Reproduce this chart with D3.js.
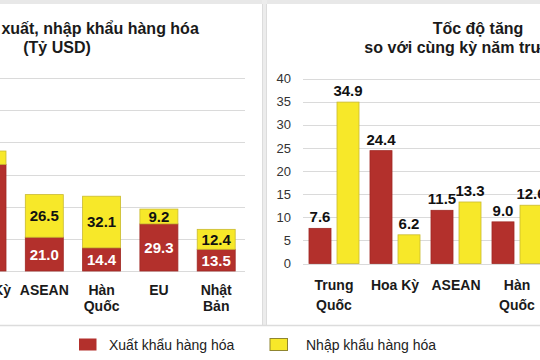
<!DOCTYPE html>
<html><head><meta charset="utf-8">
<script src="https://cdn.jsdelivr.net/npm/d3@7"></script>
<style>html,body{margin:0;padding:0;background:#fff;}svg{display:block;font-family:"Liberation Sans",Arial,sans-serif;}</style>
</head><body>
<svg id="c" width="540" height="360"></svg>
<script>
// ---- data ----
const leftCategories = ["Hoa Kỳ", "ASEAN", "Hàn Quốc", "EU", "Nhật Bản"];
const leftTickLabels = ["Hoa Kỳ", "ASEAN", "Hàn\nQuốc", "EU", "Nhật\nBản"];
const leftExport = [66.3, 21.0, 14.4, 29.3, 13.5];
const leftImport = [8.3, 26.5, 32.1, 9.2, 12.4];
const leftGridTicks = [0, 20, 40, 60, 80, 100, 120];

const rightCategories = ["Trung Quốc", "Hoa Kỳ", "ASEAN", "Hàn Quốc"];
const rightTickLabels = ["Trung\nQuốc", "Hoa Kỳ", "ASEAN", "Hàn\nQuốc"];
const rightExport = [7.6, 24.4, 11.5, 9.0];
const rightImport = [34.9, 6.2, 13.3, 12.6];
const rightTicks = [0, 5, 10, 15, 20, 25, 30, 35, 40];

const seriesNames = ["Xuất khẩu hàng hóa", "Nhập khẩu hàng hóa"];
const leftTitle = ["Kim ngạch xuất, nhập khẩu hàng hóa", "(Tỷ USD)"];
const rightTitle = ["Tốc độ tăng", "so với cùng kỳ năm trước (%)"];

// ---- styles ----
const RED = "#b3302c", RED_STROKE = "#a02824";
const YEL = "#f7e829", YEL_STROKE = "#c9ba30";
const GRID = "#dadada";

const svg = d3.select("#c");

// panel frame
svg.append("rect").attr("x", 0).attr("y", 0).attr("width", 540).attr("height", 4).attr("fill", "#e8e8e8");
svg.append("rect").attr("x", 262).attr("y", 0).attr("width", 5).attr("height", 326).attr("fill", "#ececec");
svg.append("line").attr("x1", 262.5).attr("x2", 262.5).attr("y1", 4).attr("y2", 326).attr("stroke", "#dcdcdc");
svg.append("line").attr("x1", 266.5).attr("x2", 266.5).attr("y1", 4).attr("y2", 326).attr("stroke", "#dcdcdc");
svg.append("line").attr("x1", 0).attr("x2", 540).attr("y1", 325.5).attr("y2", 325.5).attr("stroke", "#dcdcdc").attr("stroke-width", 1.5);

function multiline(sel, lh) {
  sel.each(function (d) {
    const t = d3.select(this);
    const lines = t.text().split("\n");
    t.text(null);
    lines.forEach((l, i) => t.append("tspan").attr("x", 0).attr("dy", i === 0 ? 0 : lh).text(l));
  });
}

// ================= LEFT PANEL (stacked) =================
const xL = d3.scaleBand().domain(leftCategories).range([-41.65, 244.85]).paddingInner(0.337).paddingOuter(0.1685);
const yL = d3.scaleLinear().domain([0, 120]).range([271, 78]);

const gL = svg.append("g");
gL.selectAll("line.grid").data(leftGridTicks).join("line")
  .attr("x1", -50).attr("x2", 245).attr("y1", d => Math.round(yL(d)) + 0.5).attr("y2", d => Math.round(yL(d)) + 0.5)
  .attr("stroke", GRID).attr("stroke-width", 1.2);

const leftData = leftCategories.map((c, i) => ({ c, e: leftExport[i], m: leftImport[i] }));
gL.selectAll("rect.exp").data(leftData).join("rect")
  .attr("x", d => xL(d.c)).attr("width", xL.bandwidth())
  .attr("y", d => yL(d.e)).attr("height", d => yL(0) - yL(d.e))
  .attr("fill", RED).attr("stroke", RED_STROKE).attr("stroke-width", 0.8);
gL.selectAll("rect.imp").data(leftData).join("rect")
  .attr("x", d => xL(d.c)).attr("width", xL.bandwidth())
  .attr("y", d => yL(d.e + d.m)).attr("height", d => yL(d.e) - yL(d.e + d.m))
  .attr("fill", YEL).attr("stroke", YEL_STROKE).attr("stroke-width", 0.8);
// value labels only for bars whose label sits inside the picture (the first bar's labels are out of frame)
const labelled = leftData.filter(d => xL(d.c) > 0);
gL.selectAll("text.ve").data(labelled).join("text")
  .attr("x", d => xL(d.c) + xL.bandwidth() / 2).attr("y", d => (yL(0) + yL(d.e)) / 2)
  .attr("dy", "0.36em").attr("text-anchor", "middle").attr("fill", "#fff")
  .attr("font-weight", "bold").attr("font-size", 15).text(d => d.e.toFixed(1));
gL.selectAll("text.vm").data(labelled).join("text")
  .attr("x", d => xL(d.c) + xL.bandwidth() / 2).attr("y", d => (yL(d.e) + yL(d.e + d.m)) / 2)
  .attr("dy", "0.36em").attr("text-anchor", "middle").attr("fill", "#111")
  .attr("font-weight", "bold").attr("font-size", 15).text(d => d.m.toFixed(1));

const axL = gL.append("g").attr("transform", "translate(0,284)")
  .call(d3.axisBottom(xL).tickSize(0).tickFormat((d, i) => leftTickLabels[i]));
axL.select(".domain").remove();
axL.selectAll("text").attr("font-size", 14).attr("font-weight", "bold").attr("fill", "#1a1a1a")
  .attr("font-family", "Liberation Sans, Arial, sans-serif").attr("y", 0).attr("dy", 0).call(multiline, 16);
axL.selectAll(".tick text").attr("transform", "translate(0,11)");

gL.selectAll("text.title").data(leftTitle).join("text")
  .attr("x", 57).attr("y", (d, i) => 34 + i * 19).attr("text-anchor", "middle")
  .attr("font-size", 16).attr("font-weight", "bold").attr("fill", "#1a1a1a").text(d => d);

// ================= RIGHT PANEL (grouped) =================
const xR = d3.scaleBand().domain(rightCategories).range([303.5, 547.5]).paddingInner(0.18).paddingOuter(0.09);
const xR1 = d3.scaleBand().domain(["e", "m"]).range([0, xR.bandwidth()]).paddingInner(0.214);
const yR = d3.scaleLinear().domain([0, 40]).range([263.5, 78.5]);

const gR = svg.append("g");
gR.selectAll("line.grid").data(rightTicks).join("line")
  .attr("x1", 303).attr("x2", 545).attr("y1", d => Math.round(yR(d)) + 0.5).attr("y2", d => Math.round(yR(d)) + 0.5)
  .attr("stroke", GRID).attr("stroke-width", 1.2);

const axY = gR.append("g").attr("transform", "translate(291,0)")
  .call(d3.axisLeft(yR).tickValues(rightTicks).tickSize(0).tickPadding(0));
axY.select(".domain").remove();
axY.selectAll("text").attr("font-size", 13).attr("fill", "#333").attr("font-family", "Liberation Sans, Arial, sans-serif");

const rightData = rightCategories.map((c, i) => [
  { c, k: "e", v: rightExport[i] },
  { c, k: "m", v: rightImport[i] }
]).flat();
gR.selectAll("rect.bar").data(rightData).join("rect")
  .attr("x", d => xR(d.c) + xR1(d.k)).attr("width", xR1.bandwidth())
  .attr("y", d => yR(d.v)).attr("height", d => yR(0) - yR(d.v))
  .attr("fill", d => d.k === "e" ? RED : YEL)
  .attr("stroke", d => d.k === "e" ? RED_STROKE : YEL_STROKE).attr("stroke-width", 0.8);
gR.selectAll("text.val").data(rightData).join("text")
  .attr("x", d => xR(d.c) + xR1(d.k) + xR1.bandwidth() / 2).attr("y", d => yR(d.v) - 6)
  .attr("text-anchor", "middle").attr("font-size", 15).attr("font-weight", "bold").attr("fill", "#111")
  .text(d => d.v.toFixed(1));

const axR = gR.append("g").attr("transform", "translate(0,280)")
  .call(d3.axisBottom(xR).tickSize(0).tickFormat((d, i) => rightTickLabels[i]));
axR.select(".domain").remove();
axR.selectAll("text").attr("font-size", 14).attr("font-weight", "bold").attr("fill", "#1a1a1a")
  .attr("font-family", "Liberation Sans, Arial, sans-serif").attr("y", 0).attr("dy", 0).call(multiline, 20);
axR.selectAll(".tick text").attr("transform", "translate(0,10)");

gR.selectAll("text.title").data(rightTitle).join("text")
  .attr("x", 478).attr("y", (d, i) => 34 + i * 19).attr("text-anchor", "middle")
  .attr("font-size", 16).attr("font-weight", "bold").attr("fill", "#1a1a1a").text(d => d);

// ================= LEGEND =================
const legendX = [79, 270];
const lg = svg.append("g").selectAll("g").data(seriesNames).join("g")
  .attr("transform", (d, i) => `translate(${legendX[i]},338.5)`);
lg.append("rect").attr("width", 17.5).attr("height", 12)
  .attr("fill", (d, i) => i === 0 ? RED : YEL)
  .attr("stroke", (d, i) => i === 0 ? RED : "#8f8530").attr("stroke-width", (d, i) => i === 0 ? 0 : 1);
lg.append("text").attr("x", (d, i) => i === 0 ? 30 : 36).attr("y", 6.5).attr("dy", "0.35em")
  .attr("font-size", 14).attr("fill", "#222").text(d => d);
</script>
</body></html>
